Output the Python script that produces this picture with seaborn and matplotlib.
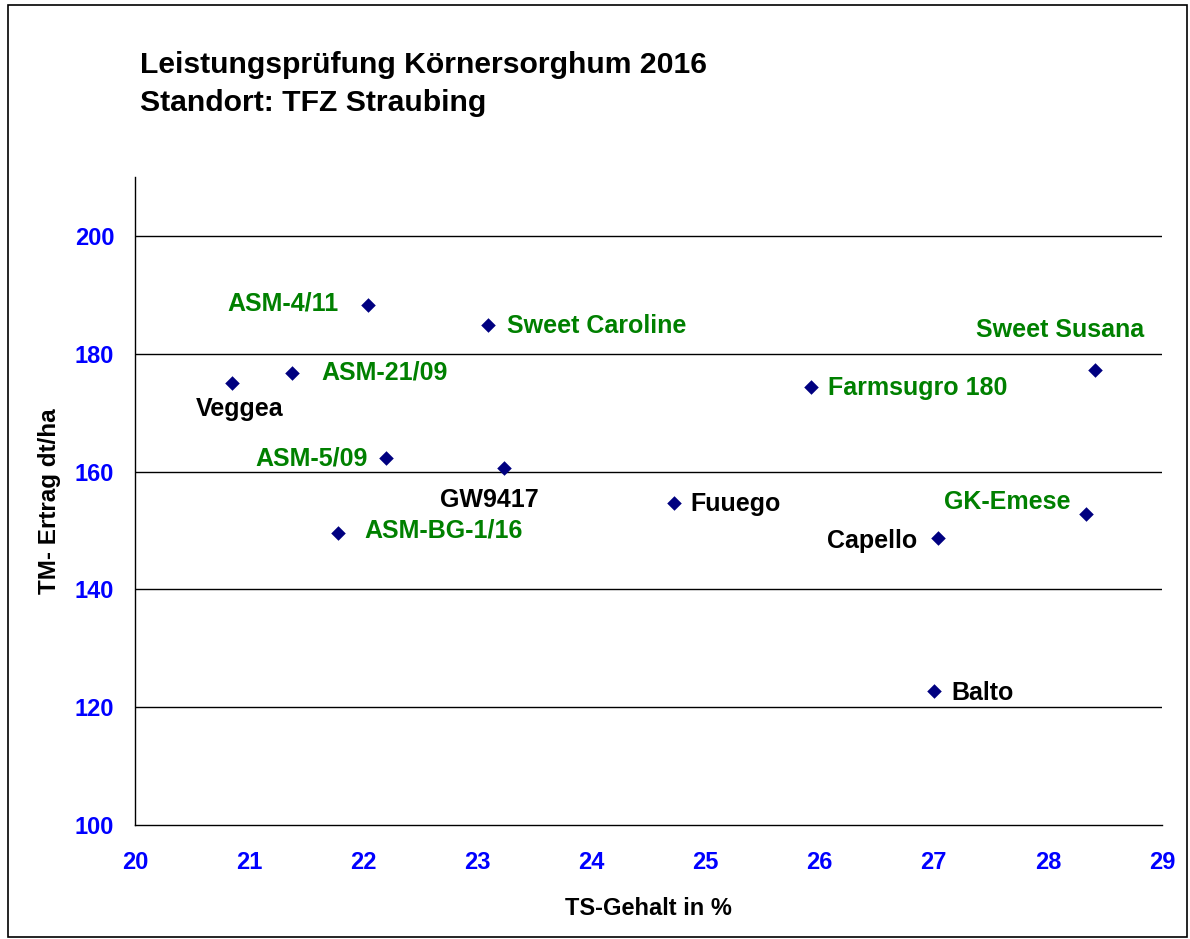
import matplotlib.pyplot as plt
import seaborn as sns
import pandas as pd
from matplotlib.patches import Rectangle

# Sorten, TS-Gehalt (%) und TM-Ertrag (dt/ha)
sorten = ["Veggea", "ASM-21/09", "ASM-4/11", "Sweet Caroline", "ASM-5/09", "GW9417",
          "ASM-BG-1/16", "Fuuego", "Farmsugro 180", "Sweet Susana", "GK-Emese",
          "Capello", "Balto"]
ts_gehalt = [20.85, 21.38, 22.04, 23.09, 22.20, 23.23, 21.78, 24.72, 25.92, 28.41, 28.33, 27.04, 27.00]
tm_ertrag = [175.0, 176.8, 188.3, 184.8, 162.3, 160.6, 149.6, 154.7, 174.3, 177.3, 152.8, 148.7, 122.7]
neu = [False, True, True, True, True, False, True, False, True, True, True, False, False]

x_ticks = [20, 21, 22, 23, 24, 25, 26, 27, 28, 29]
y_ticks = [100, 120, 140, 160, 180, 200]

# label placement (offset in pixels, alignment)
label_pos = {
    "Veggea": (8, -26, "center"),
    "ASM-21/09": (29, 0, "left"),
    "ASM-4/11": (-29, 1, "right"),
    "Sweet Caroline": (19, -1, "left"),
    "ASM-5/09": (-18, -1, "right"),
    "GW9417": (-14, -32, "center"),
    "ASM-BG-1/16": (26, 2, "left"),
    "Fuuego": (17, -1, "left"),
    "Farmsugro 180": (17, -1, "left"),
    "Sweet Susana": (-35, 40, "center"),
    "GK-Emese": (-15, 12, "right"),
    "Capello": (-21, -3, "right"),
    "Balto": (18, -2, "left"),
}

df = pd.DataFrame({"Sorte": sorten, "TS": ts_gehalt, "TM": tm_ertrag, "neu": neu})

sns.set_style("white")
plt.rcParams['font.family'] = ['Liberation Sans', 'DejaVu Sans']
plt.rcParams['font.weight'] = 'bold'
plt.rcParams['text.color'] = 'black'
plt.rcParams['axes.labelcolor'] = 'black'

fig = plt.figure(figsize=(11.9, 9.39), dpi=100)
ax = fig.add_axes([135 / 1190, 1 - 825 / 939, (1162 - 135) / 1190, (825 - 177) / 939])

sns.scatterplot(data=df, x="TS", y="TM", marker="D", s=55, color="#000080",
                edgecolor="#000080", linewidth=0, ax=ax, zorder=3)

for _, row in df.iterrows():
    dx, dy, ha = label_pos[row.Sorte]
    ax.annotate(row.Sorte, (row.TS, row.TM), xytext=(dx, dy), textcoords="offset pixels",
                ha=ha, va="center", fontsize=18, fontweight="bold",
                color="#008000" if row.neu else "black")

ax.set_xlim(20, 29)
ax.set_ylim(100, 210)
ax.set_xticks(x_ticks)
ax.set_yticks(y_ticks)
for y in y_ticks[1:]:
    ax.axhline(y, color="black", linewidth=1, zorder=1)

for side in ["top", "right"]:
    ax.spines[side].set_visible(False)
for side in ["left", "bottom"]:
    ax.spines[side].set_color("black")
    ax.spines[side].set_linewidth(1)

ax.tick_params(axis="both", direction="out", length=6, width=1, color="#444444",
               labelsize=17, labelcolor="#0000FF")
ax.tick_params(axis="x", pad=13)
ax.tick_params(axis="y", pad=9)
for lab in ax.get_xticklabels() + ax.get_yticklabels():
    lab.set_fontweight("bold")

ax.set_xlabel("TS-Gehalt in %", fontsize=17, fontweight="bold", labelpad=16)
ax.set_ylabel("TM- Ertrag dt/ha", fontsize=17.5, fontweight="bold", labelpad=10)

fig.text(140 / 1190, 1 - 65 / 939, "Leistungsprüfung Körnersorghum 2016", fontsize=21.7,
         fontweight="bold", ha="left", va="center")
fig.text(140 / 1190, 1 - 103 / 939, "Standort: TFZ Straubing", fontsize=21.7,
         fontweight="bold", ha="left", va="center")

fig.patches.append(Rectangle((8 / 1190, 0.002), (1187 - 8) / 1190, 1 - 5 / 939 - 0.002,
                             transform=fig.transFigure, fill=False, edgecolor="black",
                             linewidth=1.2))

fig.savefig("out.png", dpi=100)
